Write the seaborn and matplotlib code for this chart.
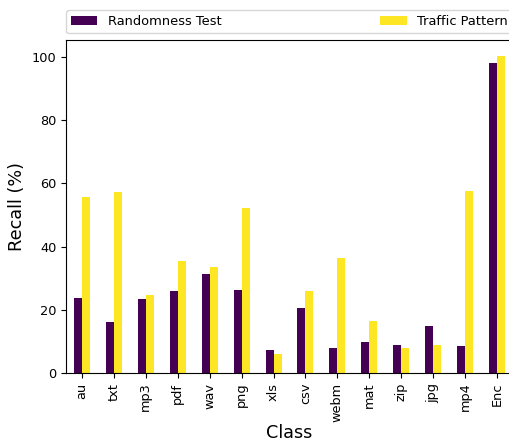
import matplotlib
matplotlib.use("Agg")
import matplotlib.pyplot as plt
import seaborn as sns
import pandas as pd

classes = ["au", "txt", "mp3", "pdf", "wav", "png", "xls", "csv",
           "webm", "mat", "zip", "jpg", "mp4", "Enc"]
randomness_test = [23.6, 16.2, 23.3, 25.8, 31.4, 26.1, 7.4, 20.7,
                   7.8, 9.7, 9.0, 15.0, 8.4, 98.1]
traffic_pattern = [55.5, 57.3, 24.7, 35.5, 33.6, 52.3, 6.1, 25.8,
                   36.5, 16.6, 7.8, 8.7, 57.7, 100.3]
series_names = ["Randomness Test", "Traffic Pattern"]
colors = ["#440154", "#fde725"]

df = pd.DataFrame({
    "Class": classes * 2,
    "Recall": randomness_test + traffic_pattern,
    "Method": [series_names[0]] * len(classes) + [series_names[1]] * len(classes),
})

fig = plt.figure(figsize=(5.09, 4.43), dpi=100)
ax = fig.add_axes([66 / 509, 70 / 443, 447 / 509, 333 / 443])

sns.barplot(data=df, x="Class", y="Recall", hue="Method", order=classes,
            hue_order=series_names, palette=colors, width=0.5, gap=0,
            saturation=1, errorbar=None, ax=ax)

ax.set_xlim(-0.5, len(classes) - 0.5)
ax.set_ylim(0, 105.3)
ax.set_xlabel("Class", fontsize=12.7, labelpad=1.5)
ax.set_ylabel("Recall (%)", fontsize=12.7)
ax.tick_params(axis="x", labelrotation=90, labelsize=9.3)
ax.tick_params(axis="y", labelsize=9.3)

ax.legend(bbox_to_anchor=(0, 1.02, 1, 0.2), loc="lower left", mode="expand",
          ncol=2, borderaxespad=0, fontsize=9.4, title=None)

fig.savefig("out.png", dpi=100)
